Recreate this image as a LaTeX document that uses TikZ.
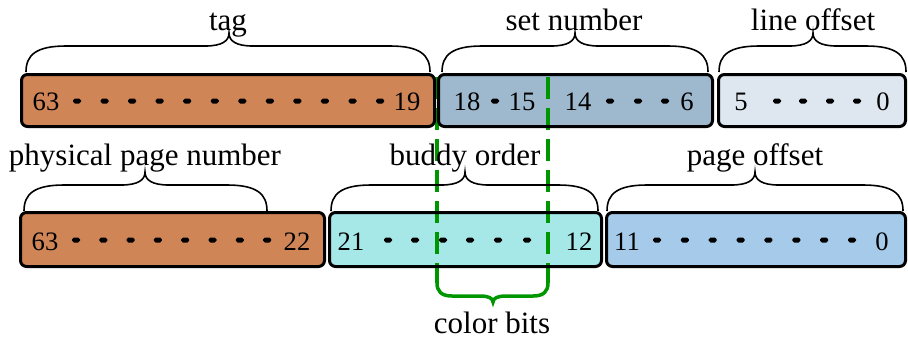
\documentclass[tikz,border=0pt]{standalone}
\usepackage{fontspec}
\setmainfont{Liberation Serif}
\definecolor{tagbrown}{RGB}{207,133,86}
\definecolor{setblue}{RGB}{158,184,206}
\definecolor{lineblue}{RGB}{222,230,240}
\definecolor{buddycyan}{RGB}{166,231,232}
\definecolor{pageblue}{RGB}{165,202,234}
\definecolor{colorgreen}{RGB}{0,150,0}
\begin{document}
\begin{tikzpicture}[x=0.5pt,y=-0.5pt,
  fieldfill/.style={rectangle, rounded corners=3pt, inner sep=0pt, outer sep=0pt},
  fieldborder/.style={draw=black, line width=1.5pt, rounded corners=3pt},
  bitnum/.style={anchor=base, inner sep=0pt, font=\fontsize{13.3}{15}\selectfont},
  fieldlabel/.style={anchor=base, inner sep=0pt, font=\fontsize{15.5}{18}\selectfont},
  bitdot/.style={fill=black, rounded corners=0.9pt},
  bracepath/.style={draw=black, line width=0.8pt},
  colorline/.style={draw=colorgreen, line width=1.75pt},
  pics/fbrace/.style 2 args={code={
    \draw[bracepath] (0,0) .. controls (0,-17) and (10,-26) .. (40,-26)
      -- ({#2-24},-26) .. controls ({#2-7},-26) and (#2,-31) .. (#2,-39)
      .. controls (#2,-31) and ({#2+7},-26) .. ({#2+24},-26)
      -- ({#1-40},-26) .. controls ({#1-10},-26) and (#1,-17) .. (#1,0);
  }},
]
\useasboundingbox (0,0) rectangle (908,339);

% virtual address fields (top row)
\node[fieldfill, fill=tagbrown, minimum width=206.5pt, minimum height=26pt] (tag) at (228,100.5) {};
\node[fieldfill, fill=setblue, minimum width=137pt, minimum height=26pt] (setn) at (575.5,100.5) {};
\node[fieldfill, fill=lineblue, minimum width=93.5pt, minimum height=26pt] (lineoff) at (812,100.5) {};

% physical address fields (bottom row)
\node[fieldfill, fill=tagbrown, minimum width=152pt, minimum height=27pt] (ppn) at (172.5,239.5) {};
\node[fieldfill, fill=buddycyan, minimum width=136pt, minimum height=27pt] (buddy) at (465.5,239.5) {};
\node[fieldfill, fill=pageblue, minimum width=149.5pt, minimum height=27pt] (pageoff) at (756,239.5) {};

% bit numbers, top row
\node[bitnum] (t63) at (46,110) {63};
\node[bitnum] (t19) at (407,110) {19};
\node[bitnum] (s18) at (467,110) {18};
\node[bitnum] (s15) at (522,110) {15};
\node[bitnum] (s14) at (578,110) {14};
\node[bitnum] (s6) at (687,110) {6};
\node[bitnum] (l5) at (741,110) {5};
\node[bitnum] (l0) at (883,110) {0};

% bit numbers, bottom row
\node[bitnum] (p63) at (45,250) {63};
\node[bitnum] (p22) at (297,250) {22};
\node[bitnum] (b21) at (351,250) {21};
\node[bitnum] (b12) at (579,250) {12};
\node[bitnum] (o11) at (627,250) {11};
\node[bitnum] (o0) at (882,250) {0};

% dot leaders between bit numbers
\foreach \i in {0,...,11}
  \fill[bitdot] ({77+27.55*\i-4},98.5) rectangle ({77+27.55*\i+4},103.5);
\foreach \x in {495,610,638,665,777,803,830,857}
  \fill[bitdot] ({\x-4},98.5) rectangle ({\x+4},103.5);
\foreach \i in {0,...,7}
  \fill[bitdot] ({76+27.3*\i-4},237.5) rectangle ({76+27.3*\i+4},242.5);
\foreach \x in {388,415,443,470,498,527}
  \fill[bitdot] ({\x-4},237.5) rectangle ({\x+4},242.5);
\foreach \i in {0,...,7}
  \fill[bitdot] ({657+27.86*\i-4},237.5) rectangle ({657+27.86*\i+4},242.5);

% color bits: dashed guides and brace
\coordinate (cbl) at (437,77);
\coordinate (cbr) at (548,77);
\coordinate (cbbl) at (437,283);
\coordinate (cbbr) at (548,283);
\draw[colorline, dash pattern=on 11pt off 4.5pt] (cbl) -- (cbbl);
\draw[colorline, dash pattern=on 11pt off 4.5pt] (cbr) -- (cbbr);
\draw[colorline] (cbbl) .. controls (437,291) and (441,296) .. (452,296)
  -- (480,296) .. controls (488,296) and (493,298) .. (493,302)
  .. controls (493,298) and (498,296) .. (506,296)
  -- (533,296) .. controls (544,296) and (548,291) .. (cbbr);

% field outlines
\foreach \f in {tag,setn,lineoff,ppn,buddy,pageoff}
  \draw[fieldborder] (\f.south west) rectangle (\f.north east);

% braces and field names
\pic at (26,72) {fbrace={404}{203}};
\pic at (442,72) {fbrace={266}{133}};
\pic at (719,72) {fbrace={187}{94}};
\pic at (24,211) {fbrace={243}{121}};
\pic at (331,211) {fbrace={267}{134}};
\pic at (607,211) {fbrace={296}{148}};

\node[fieldlabel] (ltag) at (228,30) {tag};
\node[fieldlabel] (lset) at (574,30) {set number};
\node[fieldlabel] (lline) at (813,30) {line offset};
\node[fieldlabel] (lppn) at (145,165) {physical page number};
\node[fieldlabel] (lbuddy) at (465,165) {buddy order};
\node[fieldlabel] (lpage) at (755,165) {page offset};
\node[fieldlabel] (lcolor) at (492,333) {color bits};
\end{tikzpicture}
\end{document}
